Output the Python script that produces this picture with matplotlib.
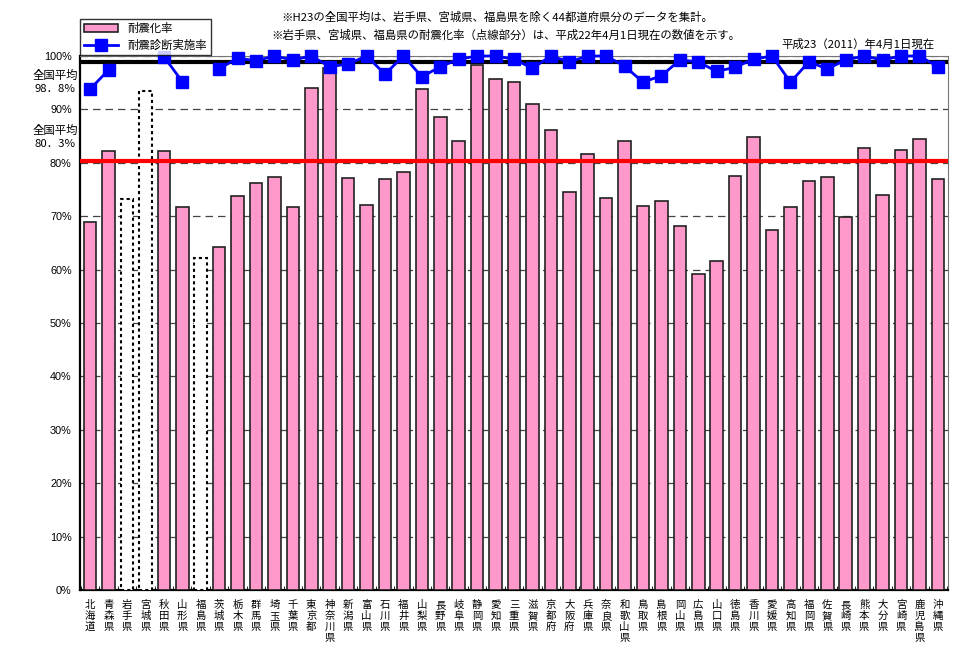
import numpy as np
import matplotlib
matplotlib.use("Agg")
from matplotlib import pyplot as plt

plt.rcParams['font.family'] = ['Noto Sans CJK JP', 'DejaVu Sans']

prefs = ['北海道', '青森県', '岩手県', '宮城県', '秋田県', '山形県', '福島県', '茨城県', '栃木県', '群馬県',
         '埼玉県', '千葉県', '東京都', '神奈川県', '新潟県', '富山県', '石川県', '福井県', '山梨県', '長野県',
         '岐阜県', '静岡県', '愛知県', '三重県', '滋賀県', '京都府', '大阪府', '兵庫県', '奈良県', '和歌山県',
         '鳥取県', '島根県', '岡山県', '広島県', '山口県', '徳島県', '香川県', '愛媛県', '高知県', '福岡県',
         '佐賀県', '長崎県', '熊本県', '大分県', '宮崎県', '鹿児島県', '沖縄県']

# 耐震化率 (%)
taishin = [69.0, 82.2, 73.2, 93.5, 82.2, 71.7, 62.2, 64.2, 73.7, 76.3,
           77.3, 71.7, 94.1, 97.8, 77.2, 72.1, 77.0, 78.3, 93.8, 88.5,
           84.1, 98.3, 95.6, 95.2, 91.1, 86.1, 74.5, 81.6, 73.5, 84.0,
           72.0, 72.8, 68.2, 59.2, 61.6, 77.5, 84.8, 67.5, 71.7, 76.5,
           77.3, 69.8, 82.8, 74.0, 82.4, 84.4, 76.9]

# 耐震診断実施率 (%) - 岩手・宮城・福島はデータなし
shindan = [93.8, 97.4, np.nan, np.nan, 99.9, 95.2, np.nan, 97.6, 99.6, 99.1,
           100.0, 99.25, 100.0, 98.0, 98.5, 100.0, 96.6, 100.0, 96.1, 98.0,
           99.4, 100.0, 100.0, 99.4, 97.7, 100.0, 98.9, 100.0, 100.0, 98.1,
           95.1, 96.3, 99.25, 98.9, 97.1, 97.9, 99.4, 100.0, 95.1, 98.9,
           97.6, 99.25, 100.0, 99.25, 100.0, 100.0, 98.0]

dotted = ['岩手県', '宮城県', '福島県']   # 平成22年の値
avg_shindan = 98.8
avg_taishin = 80.3

fs = 8.2

fig = plt.figure(figsize=(9.64, 6.48), dpi=100)
ax = fig.add_axes([80 / 964, 58 / 648, 868 / 964, 534 / 648])

x = np.arange(len(prefs))
for i, (p, v) in enumerate(zip(prefs, taishin)):
    if p in dotted:
        ax.bar(i, v, width=0.68, facecolor='white', edgecolor='black',
               linestyle=(0, (1.5, 1.5)), linewidth=1.5, zorder=3)
    else:
        ax.bar(i, v, width=0.68, facecolor='#FF99CC', edgecolor='#222222',
               linewidth=1.2, zorder=3)

ax.axhline(avg_taishin, color='#FF0000', linewidth=3, zorder=4)
ax.axhline(avg_shindan, color='black', linewidth=3, zorder=4)

ax.plot(x, shindan, color='#0000FF', linewidth=2, marker='s', markersize=8,
        zorder=5, clip_on=False)

ax.set_xlim(-0.55, len(prefs) - 0.45)
ax.set_ylim(0, 100)
ax.set_yticks(np.arange(0, 101, 10))
ax.set_yticklabels([f'{v}%' for v in range(0, 101, 10)], fontsize=7.8,
                   family=['Liberation Sans', 'DejaVu Sans'])
ax.yaxis.grid(True, linestyle=(0, (6, 4)), color='#444444', linewidth=0.9, zorder=0)
ax.set_axisbelow(True)
ax.tick_params(axis='y', length=0, pad=6)

ax.set_xticks(x)
ax.set_xticklabels(['\n'.join(p) for p in prefs], fontsize=7.5, linespacing=1.15,
                   va='top')
ax.tick_params(axis='x', length=0, pad=7)
ax.set_xticks(np.arange(-0.5, len(prefs)), minor=True)
ax.tick_params(axis='x', which='minor', length=3, direction='in')

for side in ['top', 'right']:
    ax.spines[side].set_color('#777777')
ax.spines['left'].set_linewidth(1.6)
ax.spines['bottom'].set_linewidth(1.6)

# 全国平均ラベル
fig.text(55 / 964, 1 - 82 / 648, '全国平均\n98．8%', ha='center', va='center',
         fontsize=fs, linespacing=1.3)
fig.text(55 / 964, 1 - 137 / 648, '全国平均\n80．3%', ha='center', va='center',
         fontsize=fs, linespacing=1.3)

fig.text(497 / 964, 1 - 17 / 648,
         '※H23の全国平均は、岩手県、宮城県、福島県を除く44都道府県分のデータを集計。',
         ha='center', va='center', fontsize=fs)
fig.text(506 / 964, 1 - 35 / 648,
         '※岩手県、宮城県、福島県の耐震化率（点線部分）は、平成22年4月1日現在の数値を示す。',
         ha='center', va='center', fontsize=fs)
fig.text(935 / 964, 1 - 44 / 648, '平成23（2011）年4月1日現在',
         ha='right', va='center', fontsize=fs)

leg = fig.legend(handles=[ax.patches[0], ax.lines[-1]], labels=['耐震化率', '耐震診断実施率'],
                 loc='upper left', bbox_to_anchor=(74 / 964, 1 - 13 / 648),
                 fontsize=fs, frameon=True, fancybox=False, edgecolor='black',
                 handlelength=3.0, borderpad=0.35, labelspacing=0.55)
leg.get_frame().set_linewidth(1.0)

fig.savefig('out.png', dpi=100)
